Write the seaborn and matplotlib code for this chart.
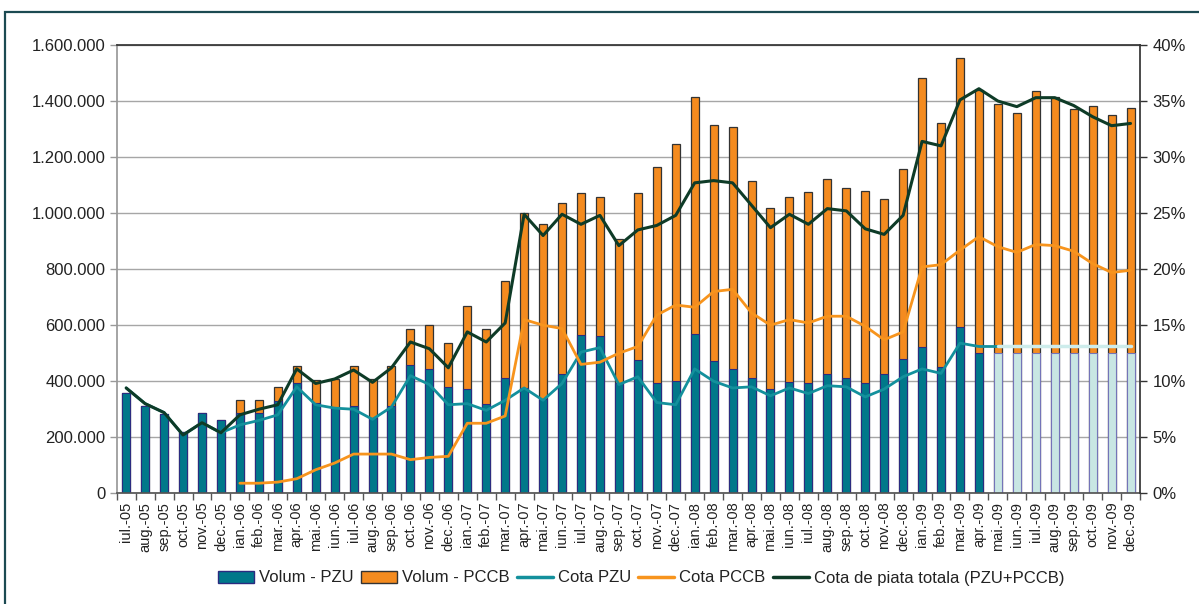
import numpy as np
import pandas as pd
import matplotlib
matplotlib.use("Agg")
import matplotlib.pyplot as plt
import seaborn as sns
from matplotlib.patches import Patch, Rectangle
from matplotlib.lines import Line2D
from matplotlib.ticker import FuncFormatter, MultipleLocator

sns.set_theme(style="white")
plt.rcParams['font.family'] = ['Liberation Sans', 'DejaVu Sans']

# luni iul.-05 ... dec.-09
luni = ['iul.-05', 'aug.-05', 'sep.-05', 'oct.-05', 'nov.-05', 'dec.-05',
        'ian.-06', 'feb.-06', 'mar.-06', 'apr.-06', 'mai.-06', 'iun.-06',
        'iul.-06', 'aug.-06', 'sep.-06', 'oct.-06', 'nov.-06', 'dec.-06',
        'ian.-07', 'feb.-07', 'mar.-07', 'apr.-07', 'mai.-07', 'iun.-07',
        'iul.-07', 'aug.-07', 'sep.-07', 'oct.-07', 'nov.-07', 'dec.-07',
        'ian.-08', 'feb.-08', 'mar.-08', 'apr.-08', 'mai.-08', 'iun.-08',
        'iul.-08', 'aug.-08', 'sep.-08', 'oct.-08', 'nov.-08', 'dec.-08',
        'ian.-09', 'feb.-09', 'mar.-09', 'apr.-09', 'mai.-09', 'iun.-09',
        'iul.-09', 'aug.-09', 'sep.-09', 'oct.-09', 'nov.-09', 'dec.-09']

# volume PZU (MWh)
vol_pzu = [357000, 312000, 283000, 220000, 286000, 260000,
           286000, 288000, 330000, 393000, 321000, 305000,
           313000, 268000, 310000, 458000, 444000, 379000,
           374000, 318000, 411000, 375000, 337000, 425000,
           564000, 560000, 393000, 476000, 392000, 402000,
           570000, 473000, 444000, 411000, 374000, 398000,
           392000, 425000, 411000, 392000, 425000, 481000,
           521000, 452000, 592000, 500000, 500000, 500000,
           500000, 500000, 500000, 500000, 500000, 500000]

# volum total PZU + PCCB
vol_total = [357000, 312000, 283000, 220000, 286000, 260000,
             333000, 333000, 380000, 453000, 403000, 407000,
             453000, 407000, 453000, 588000, 599000, 538000,
             668000, 588000, 758000, 1000000, 962000, 1037000,
             1073000, 1059000, 907000, 1071000, 1163000, 1246000,
             1413000, 1315000, 1306000, 1116000, 1018000, 1056000,
             1074000, 1121000, 1088000, 1080000, 1051000, 1158000,
             1483000, 1321000, 1552000, 1438000, 1389000, 1357000,
             1437000, 1413000, 1371000, 1381000, 1349000, 1376000]

# real / prognoza (mai.-09 incolo)
tip = ['real'] * 46 + ['prognoza'] * 8

# cote de piata (%)
cota_pzu = [9.4, 8.0, 7.2, 5.2, 6.3, 5.4,
            6.1, 6.5, 7.0, 9.5, 7.9, 7.6, 7.5, 6.6, 7.7, 10.5, 9.7, 7.9,
            8.0, 7.4, 8.3, 9.4, 8.3, 9.8, 12.6, 13.0, 9.7, 10.4, 8.1, 7.9,
            11.1, 10.0, 9.4, 9.5, 8.7, 9.4, 8.9, 9.6, 9.5, 8.6, 9.3, 10.4,
            11.1, 10.7, 13.4, 13.1, 13.1] + [np.nan] * 7
cota_pzu_prog = [np.nan] * 46 + [13.1] * 8
cota_pccb = [np.nan] * 6 + [
    0.9, 0.9, 1.0, 1.3, 2.1, 2.7, 3.5, 3.5, 3.5, 3.0, 3.2, 3.3,
    6.25, 6.25, 6.9, 15.5, 15.0, 14.7, 11.5, 11.7, 12.5, 13.1, 15.9, 16.8,
    16.6, 18.0, 18.2, 16.1, 15.0, 15.5, 15.2, 15.8, 15.8, 14.9, 13.7, 14.4,
    20.2, 20.4, 21.7, 22.9, 22.0, 21.5, 22.2, 22.1, 21.6, 20.5, 19.7, 19.9]
cota_totala = [9.4, 8.0, 7.2, 5.2, 6.3, 5.4,
               7.0, 7.5, 7.9, 11.1, 9.8, 10.2, 11.0, 9.9, 11.2, 13.5, 12.9, 11.2,
               14.4, 13.5, 15.2, 24.9, 23.0, 24.9, 24.0, 24.8, 22.1, 23.5, 23.9, 24.8,
               27.7, 27.9, 27.7, 25.7, 23.7, 24.9, 24.0, 25.4, 25.2, 23.6, 23.1, 24.8,
               31.4, 31.0, 35.1, 36.1, 35.0, 34.5, 35.3, 35.3, 34.6, 33.6, 32.8, 33.0]

teal = '#00788a'
teal_light = '#c8e6e3'
orange = '#f48b1f'
line_teal = '#13909c'
line_orange = '#f7941d'
line_dark = '#0e3b27'

poz = np.arange(len(luni))
df = pd.DataFrame({'poz': poz, 'luna': luni, 'pzu': vol_pzu,
                   'total': vol_total, 'tip': tip})

fig = plt.figure(figsize=(11.99, 6.04), dpi=100)
ax = fig.add_axes([116.7 / 1199, 1 - 493.3 / 604, (1140 - 116.7) / 1199, (493.3 - 45) / 604])

# bare stivuite: total (portocaliu) si PZU peste
sns.barplot(data=df, x='poz', y='total', native_scale=True, color=orange,
            saturation=1, width=0.42, edgecolor='#333333', linewidth=0.9, ax=ax)
sns.barplot(data=df, x='poz', y='pzu', hue='tip', hue_order=['real', 'prognoza'],
            palette={'real': teal, 'prognoza': teal_light}, native_scale=True,
            dodge=False, saturation=1, width=0.42, edgecolor='#2b2b80',
            linewidth=0.8, legend=False, ax=ax)
for bar in ax.containers[-1]:
    bar.set_edgecolor('#7474b8')

ax.set_xlim(-0.5, len(luni) - 0.5)
ax.set_ylim(0, 1600000)
ax.yaxis.set_major_locator(MultipleLocator(200000))
ax.yaxis.set_major_formatter(FuncFormatter(lambda v, p: f"{v:,.0f}".replace(',', '.')))
ax.yaxis.grid(True, color='#a6a6a6', linewidth=1)
ax.set_axisbelow(True)
ax.set_xlabel('')
ax.set_ylabel('')
ax.set_xticks(poz)
ax.set_xticklabels(luni, rotation=90, fontsize=10.5, color='#222222')
ax.set_xticks(np.arange(len(luni) + 1) - 0.5, minor=True)
ax.tick_params(axis='x', which='major', length=0, pad=6)
ax.tick_params(axis='x', which='minor', length=5, width=1, color='#555555', direction='out', bottom=True)
ax.tick_params(axis='y', length=5, width=1, color='#999999', direction='out', left=True,
               labelsize=12, labelcolor='#222222', pad=3)
ax.spines['left'].set_color('#999999')
ax.spines['bottom'].set_color('#555555')
ax.spines['top'].set_color('#333333')
ax.spines['right'].set_visible(False)

# cote de piata pe axa dreapta
ax2 = ax.twinx()
sns.lineplot(x=poz, y=cota_pzu, color=line_teal, linewidth=2.0, errorbar=None, ax=ax2)
sns.lineplot(x=poz, y=cota_pzu_prog, color='#cdeceb', linewidth=2.5, errorbar=None, ax=ax2)
sns.lineplot(x=poz, y=cota_pccb, color=line_orange, linewidth=2.0, errorbar=None, ax=ax2)
sns.lineplot(x=poz, y=cota_totala, color=line_dark, linewidth=2.2, errorbar=None, ax=ax2)
ax2.set_xlim(-0.5, len(luni) - 0.5)
ax2.set_ylim(0, 40)
ax2.yaxis.set_major_locator(MultipleLocator(5))
ax2.yaxis.set_major_formatter(FuncFormatter(lambda v, p: f"{v:.0f}%"))
ax2.tick_params(axis='y', length=5, width=1, color='#333333', direction='out', right=True,
                labelsize=12, labelcolor='#222222', pad=4)
ax2.set_ylabel('')
for s in ['left', 'top', 'bottom']:
    ax2.spines[s].set_visible(False)
ax2.spines['right'].set_color('#333333')

# legenda
handles = [Patch(facecolor=teal, edgecolor='#2b2b80'),
           Patch(facecolor=orange, edgecolor='#333333'),
           Line2D([], [], color=line_teal, linewidth=2.5),
           Line2D([], [], color=line_orange, linewidth=2.5),
           Line2D([], [], color=line_dark, linewidth=2.5)]
labels = ['Volum - PZU', 'Volum - PCCB', 'Cota PZU', 'Cota PCCB',
          'Cota de piata totala (PZU+PCCB)']
fig.legend(handles, labels, loc='center', bbox_to_anchor=(641 / 1199, 1 - 578 / 604),
           ncol=5, frameon=False, fontsize=12, handlelength=2.15, handleheight=0.75,
           handletextpad=0.3, columnspacing=0.45, labelcolor='#222222')

# chenar exterior
fig.add_artist(Rectangle((5.3 / 1199, -0.1), 1.2, (604 - 11.5) / 604 + 0.1,
                         transform=fig.transFigure, fill=False,
                         edgecolor='#1c4a52', linewidth=1.6))

fig.savefig('out.png', dpi=100)
